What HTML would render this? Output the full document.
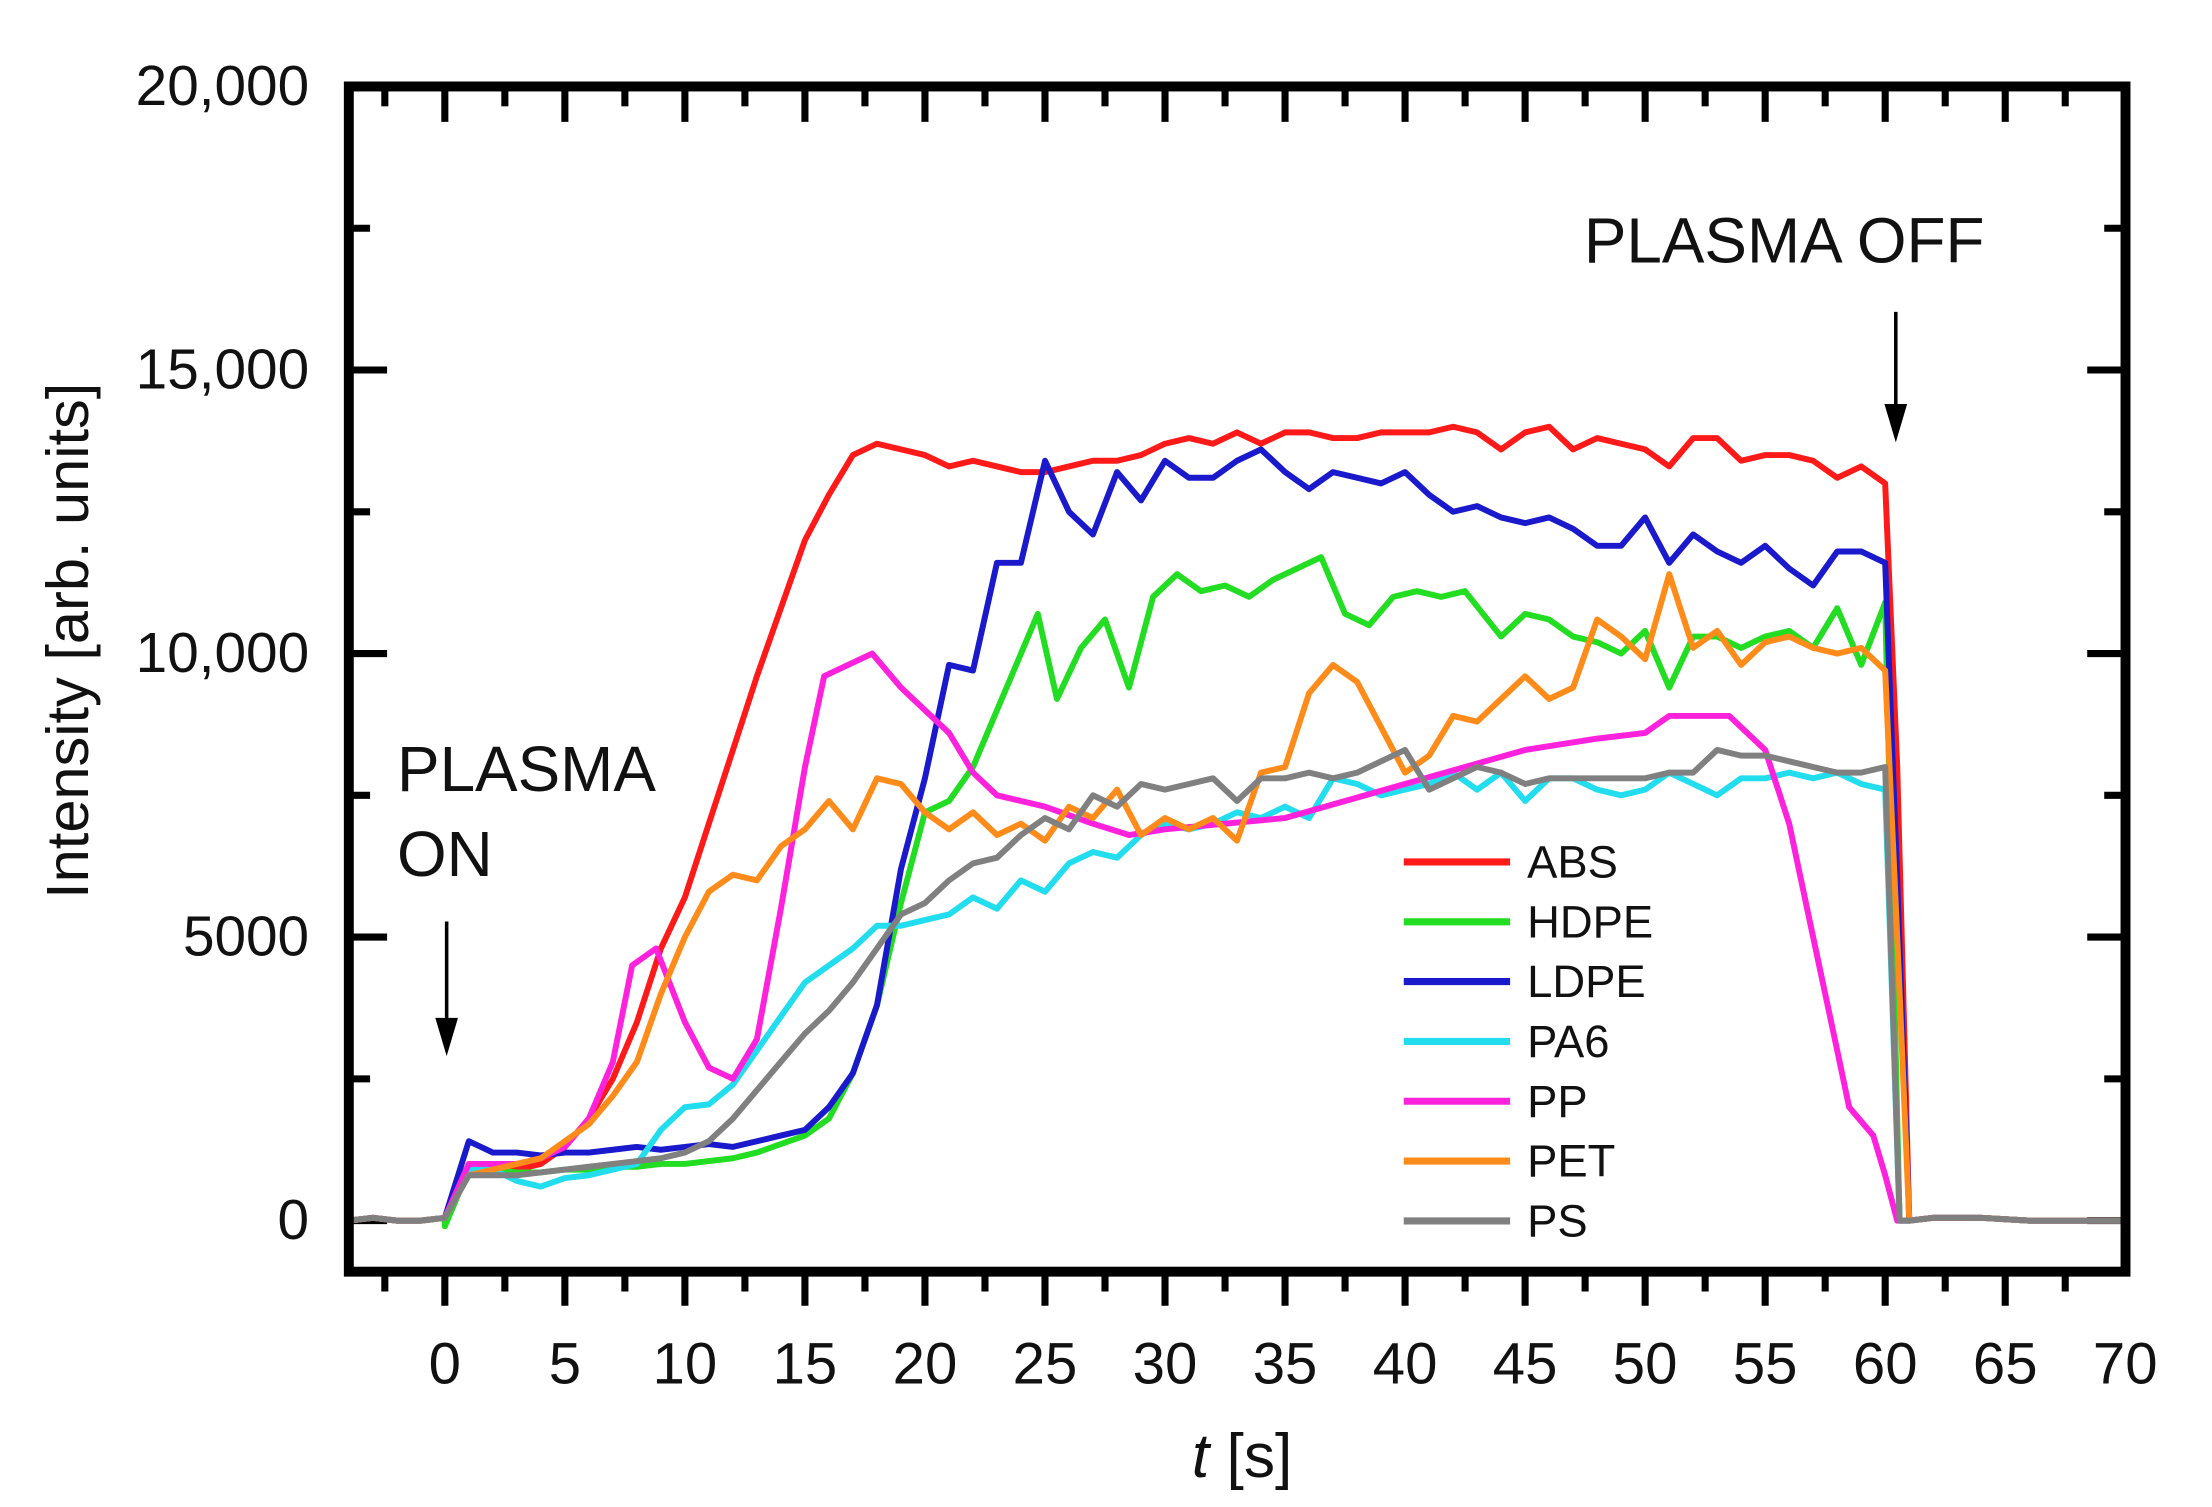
<!DOCTYPE html>
<html><head><meta charset="utf-8"><style>
html,body{margin:0;padding:0;background:#fff;}
svg{display:block;}
text{font-family:"Liberation Sans",Arial,sans-serif;fill:#111;}
</style></head><body>
<svg id="s" width="2212" height="1507" viewBox="0 0 1560 1063" preserveAspectRatio="none" xmlns="http://www.w3.org/2000/svg">
<g id="ticks" stroke="#000" stroke-width="5"></g>
<g id="series" fill="none" stroke-width="4.2" stroke-linejoin="round"></g>
<rect x="246" y="61" width="1253" height="836" fill="none" stroke="#000" stroke-width="7"/>
<g font-size="40" text-anchor="end">
<text x="218" y="74">20,000</text>
<text x="218" y="274">15,000</text>
<text x="218" y="474">10,000</text>
<text x="218" y="674">5000</text>
<text x="218" y="874">0</text>
</g>
<g id="xl" font-size="41" text-anchor="middle"></g>
<text x="876" y="1042" font-size="44" text-anchor="middle"><tspan font-style="italic">t</tspan> [s]</text>
<text transform="translate(62,452) rotate(-90)" font-size="42" text-anchor="middle">Intensity [arb. units]</text>
<text x="280" y="558" font-size="45">PLASMA</text>
<text x="280" y="618" font-size="45">ON</text>
<line x1="315" y1="650" x2="315" y2="725" stroke="#000" stroke-width="2.5"/>
<polygon points="307,718 323,718 315,745" fill="#000"/>
<text x="1117" y="185" font-size="45">PLASMA OFF</text>
<line x1="1337" y1="220" x2="1337" y2="290" stroke="#000" stroke-width="2.5"/>
<polygon points="1329,285 1345,285 1337,312" fill="#000"/>
<g id="leg" font-size="32"></g>
</svg>
<script>
var NS="http://www.w3.org/2000/svg";
function X(t){return 246+(t+4)*16.93;}
function Y(v){return 861-v*40;}
function el(n,a,p){var e=document.createElementNS(NS,n);for(var k in a)e.setAttribute(k,a[k]);p.appendChild(e);return e;}
var tk=document.getElementById('ticks');
for(var t=-2.5;t<70;t+=2.5){var maj=(t%5===0);var x=X(t);
 el('line',{x1:x,y1:897,x2:x,y2:897+(maj?24:14)},tk);
 el('line',{x1:x,y1:61,x2:x,y2:61+(maj?25:14)},tk);}
for(var v=0;v<20;v+=2.5){var maj=(v%5===0);var y=Y(v);
 el('line',{x1:246,y1:y,x2:246+(maj?27:15),y2:y},tk);
 el('line',{x1:1499,y1:y,x2:1499-(maj?27:15),y2:y},tk);}
var xl=document.getElementById('xl');
for(var t=0;t<=70;t+=5){var e=el('text',{x:X(t),y:976},xl);e.textContent=t;}
var pre=[[-4,0],[-3,0.05],[-2,0],[-1,0],[0,0.05]];
var post=[[61,0],[62,0.05],[64,0.05],[66,0],[70,0]];
var S={
ABS:['#ff1a1a',[[1,1],[2,1],[3,0.9],[4,1],[5,1.3],[6,1.8],[7,2.5],[8,3.5],[9,4.8],[10,5.7],[11,7],[12,8.3],[13,9.6],[14,10.8],[15,12],[16,12.8],[17,13.5],[18,13.7],[19,13.6],[20,13.5],[21,13.3],[22,13.4],[23,13.3],[24,13.2],[25,13.2],[26,13.3],[27,13.4],[28,13.4],[29,13.5],[30,13.7],[31,13.8],[32,13.7],[33,13.9],[34,13.7],[35,13.9],[36,13.9],[37,13.8],[38,13.8],[39,13.9],[40,13.9],[41,13.9],[42,14],[43,13.9],[44,13.6],[45,13.9],[46,14],[47,13.6],[48,13.8],[49,13.7],[50,13.6],[51,13.3],[52,13.8],[53,13.8],[54,13.4],[55,13.5],[56,13.5],[57,13.4],[58,13.1],[59,13.3],[60,13],[60.5,8]]],
HDPE:['#22dd22',[[0,-0.1],[1,0.9],[2,0.9],[3,0.85],[4,0.85],[5,0.9],[6,0.9],[7,0.95],[8,0.95],[9,1],[10,1],[11,1.05],[12,1.1],[13,1.2],[14,1.35],[15,1.5],[16,1.8],[17,2.6],[18,3.8],[19,5.6],[20,7.2],[21,7.4],[22,8],[23,9],[24.7,10.7],[25.5,9.2],[26.5,10.1],[27.5,10.6],[28.5,9.4],[29.5,11],[30.5,11.4],[31.5,11.1],[32.5,11.2],[33.5,11],[34.5,11.3],[36.5,11.7],[37.5,10.7],[38.5,10.5],[39.5,11],[40.5,11.1],[41.5,11],[42.5,11.1],[44,10.3],[45,10.7],[46,10.6],[47,10.3],[48,10.2],[49,10],[50,10.4],[51,9.4],[52,10.3],[53,10.3],[54,10.1],[55,10.3],[56,10.4],[57,10.1],[58,10.8],[59,9.8],[60,10.9],[60.6,0]]],
LDPE:['#1a1acc',[[1,1.4],[2,1.2],[3,1.2],[4,1.15],[5,1.2],[6,1.2],[7,1.25],[8,1.3],[9,1.25],[10,1.3],[11,1.35],[12,1.3],[13,1.4],[14,1.5],[15,1.6],[16,2],[17,2.6],[18,3.8],[19,6.2],[20,7.8],[21,9.8],[22,9.7],[23,11.6],[24,11.6],[25,13.4],[26,12.5],[27,12.1],[28,13.2],[29,12.7],[30,13.4],[31,13.1],[32,13.1],[33,13.4],[34,13.6],[35,13.2],[36,12.9],[37,13.2],[38,13.1],[39,13],[40,13.2],[41,12.8],[42,12.5],[43,12.6],[44,12.4],[45,12.3],[46,12.4],[47,12.2],[48,11.9],[49,11.9],[50,12.4],[51,11.6],[52,12.1],[53,11.8],[54,11.6],[55,11.9],[56,11.5],[57,11.2],[58,11.8],[59,11.8],[60,11.6],[60.5,6]]],
PA6:['#22ddee',[[1,0.9],[2,0.9],[3,0.7],[4,0.6],[5,0.75],[6,0.8],[7,0.9],[8,1.0],[9,1.6],[10,2],[11,2.05],[12,2.4],[13,3],[14,3.6],[15,4.2],[16,4.5],[17,4.8],[18,5.2],[19,5.2],[20,5.3],[21,5.4],[22,5.7],[23,5.5],[24,6],[25,5.8],[26,6.3],[27,6.5],[28,6.4],[29,6.8],[30,7],[31,6.9],[32,7],[33,7.2],[34,7.1],[35,7.3],[36,7.1],[37,7.8],[38,7.7],[39,7.5],[40,7.6],[41,7.7],[42,7.9],[43,7.6],[44,7.9],[45,7.4],[46,7.8],[47,7.8],[48,7.6],[49,7.5],[50,7.6],[51,7.9],[52,7.7],[53,7.5],[54,7.8],[55,7.8],[56,7.9],[57,7.8],[58,7.9],[59,7.7],[60,7.6],[60.6,0]]],
PP:['#ff22dd',[[1,1],[2,1],[3,1],[4,1.1],[5,1.3],[6,1.8],[7,2.8],[7.8,4.5],[8.8,4.8],[10,3.5],[11,2.7],[12,2.5],[13,3.2],[14,5.5],[15,8],[15.8,9.6],[17.8,10],[19,9.4],[21,8.6],[22,7.9],[23,7.5],[25,7.3],[27,7],[28.5,6.8],[30,6.9],[35,7.1],[40,7.7],[45,8.3],[48,8.5],[50,8.6],[51,8.9],[53.5,8.9],[55,8.3],[56,7],[57,5],[58,3],[58.5,2],[59.5,1.5],[60,0.8],[60.5,0]]],
PET:['#ff8c1a',[[1,0.8],[2,0.9],[3,1],[4,1.1],[5,1.4],[6,1.7],[7,2.2],[8,2.8],[9,4],[10,5],[11,5.8],[12,6.1],[13,6],[14,6.6],[15,6.9],[16,7.4],[17,6.9],[18,7.8],[19,7.7],[20,7.2],[21,6.9],[22,7.2],[23,6.8],[24,7],[25,6.7],[26,7.3],[27,7.1],[28,7.6],[29,6.8],[30,7.1],[31,6.9],[32,7.1],[33,6.7],[34,7.9],[35,8],[36,9.3],[37,9.8],[38,9.5],[39,8.7],[40,7.9],[41,8.2],[42,8.9],[43,8.8],[44,9.2],[45,9.6],[46,9.2],[47,9.4],[48,10.6],[49,10.3],[50,9.9],[51,11.4],[52,10.1],[53,10.4],[54,9.8],[55,10.2],[56,10.3],[57,10.1],[58,10],[59,10.1],[60,9.7],[60.5,5]]],
PS:['#808080',[[1,0.8],[2,0.8],[3,0.8],[4,0.85],[5,0.9],[6,0.95],[7,1],[8,1.05],[9,1.1],[10,1.2],[11,1.4],[12,1.8],[13,2.3],[14,2.8],[15,3.3],[16,3.7],[17,4.2],[18,4.8],[19,5.4],[20,5.6],[21,6],[22,6.3],[23,6.4],[24,6.8],[25,7.1],[26,6.9],[27,7.5],[28,7.3],[29,7.7],[30,7.6],[31,7.7],[32,7.8],[33,7.4],[34,7.8],[35,7.8],[36,7.9],[37,7.8],[38,7.9],[39,8.1],[40,8.3],[41,7.6],[42,7.8],[43,8],[44,7.9],[45,7.7],[46,7.8],[47,7.8],[48,7.8],[49,7.8],[50,7.8],[51,7.9],[52,7.9],[53,8.3],[54,8.2],[55,8.2],[56,8.1],[57,8],[58,7.9],[59,7.9],[60,8],[60.6,0]]]
};
var g=document.getElementById('series'),lg=document.getElementById('leg'),i=0;
for(var k in S){var d=pre.concat(S[k][1]).concat(post);
 var p=d.map(function(q){return X(q[0]).toFixed(1)+','+Y(q[1]).toFixed(1);}).join(' ');
 el('polyline',{points:p,stroke:S[k][0]},g);
 var y=608+i*42.2;
 el('line',{x1:990,y1:y,x2:1065,y2:y,stroke:S[k][0],'stroke-width':5},lg);
 var t=el('text',{x:1077,y:y+11},lg);t.textContent=k;i++;}
</script>
</body></html>
